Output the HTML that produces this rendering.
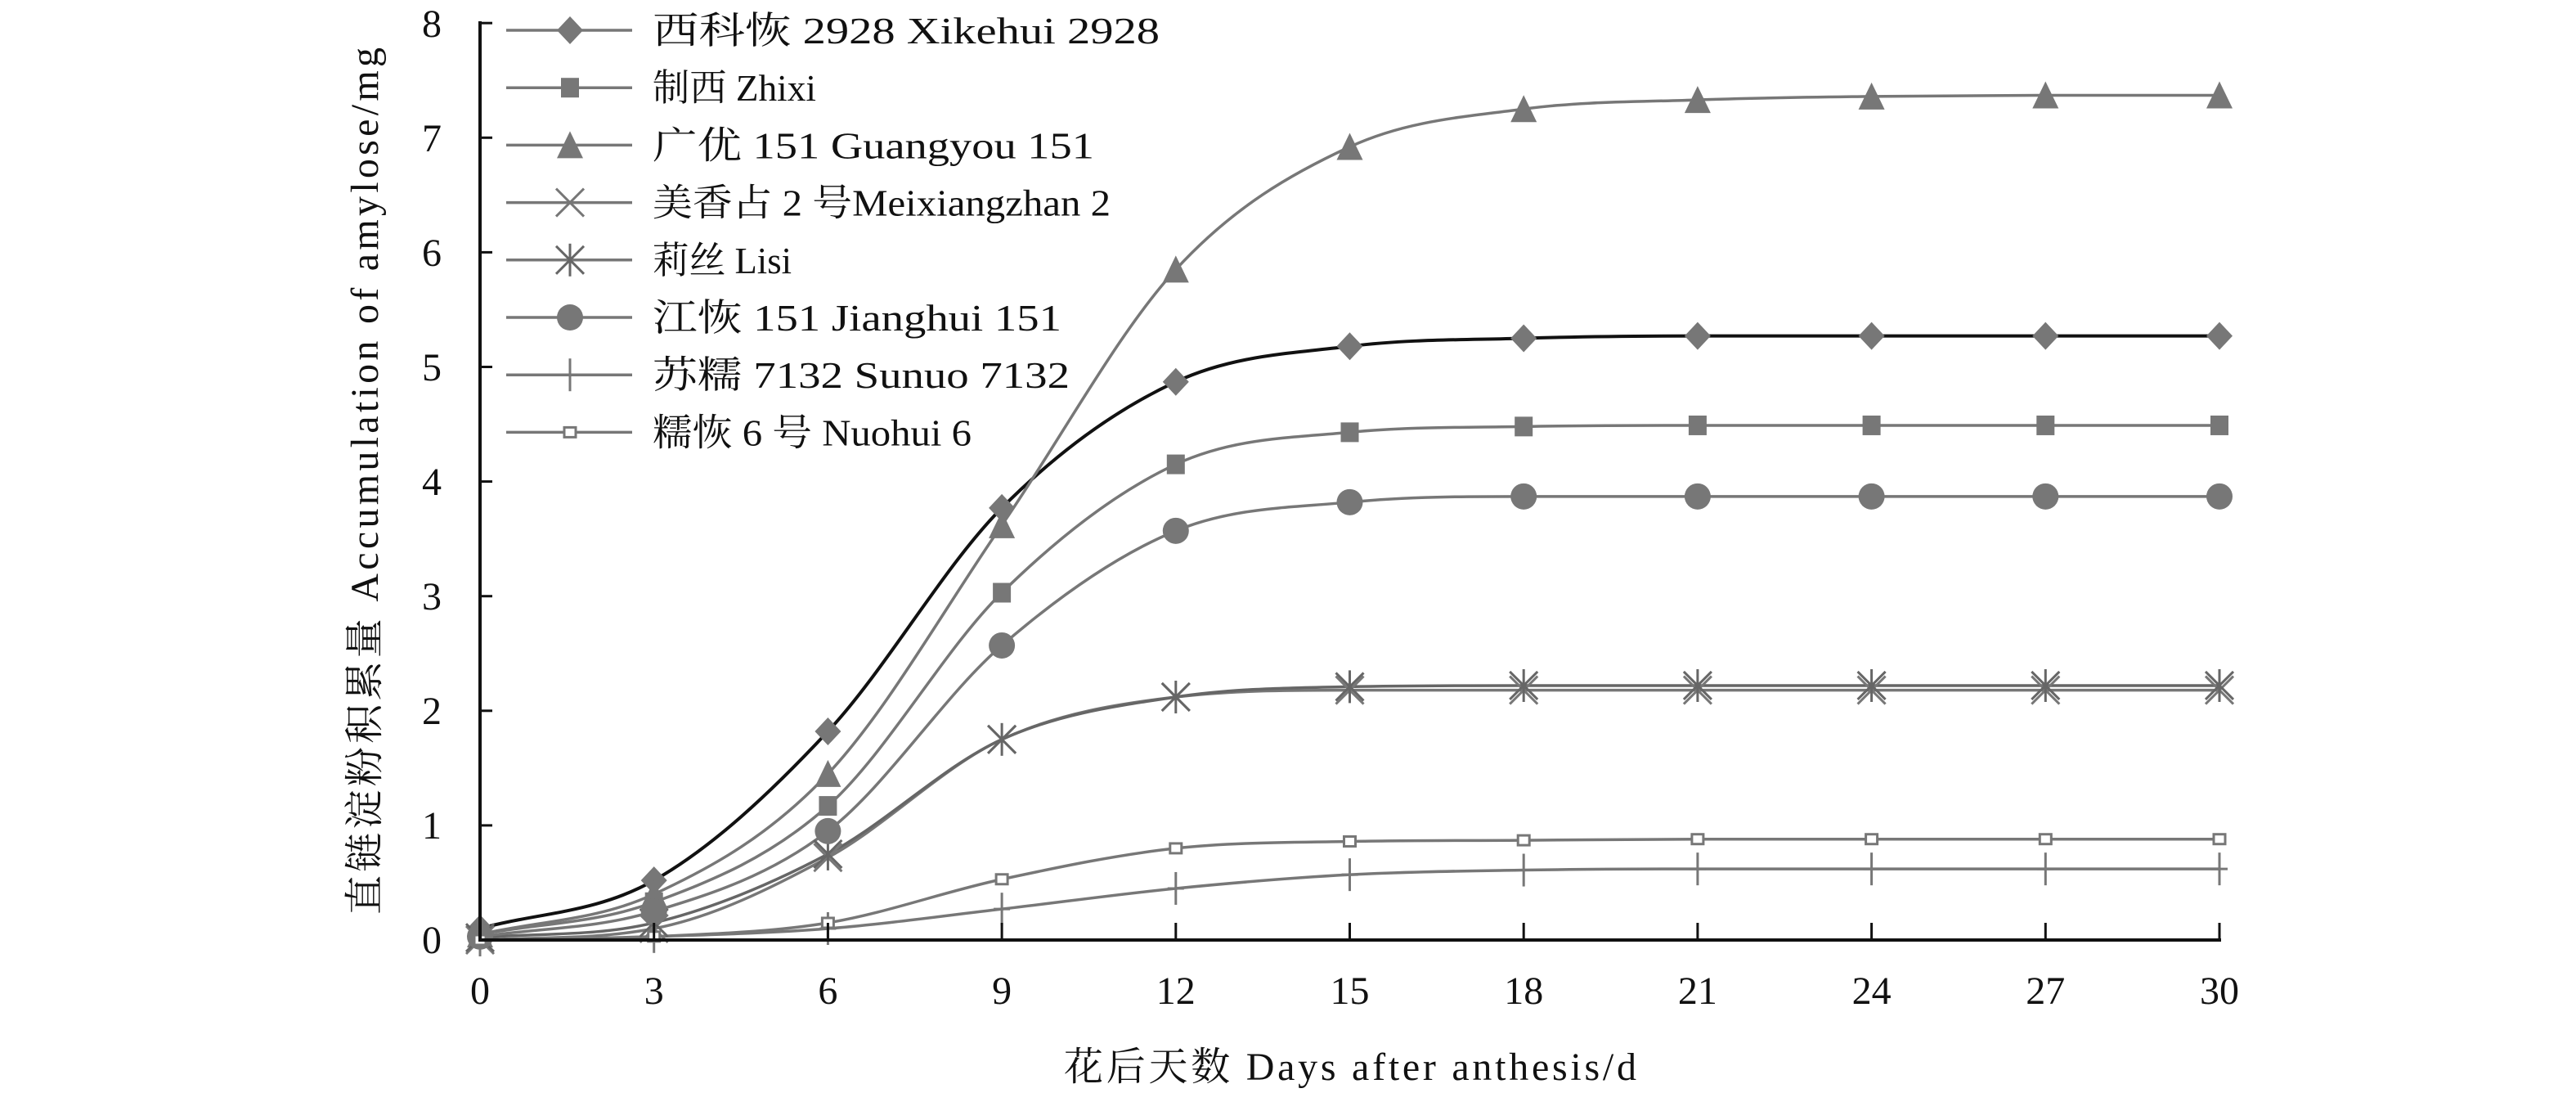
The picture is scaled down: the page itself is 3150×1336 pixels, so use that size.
<!DOCTYPE html>
<html><head><meta charset="utf-8"><style>
html,body{margin:0;padding:0;background:#fff}
svg{display:block}
text{font-family:"Liberation Serif","Noto Serif CJK SC","Noto Sans CJK SC",serif;fill:#111}
</style></head><body>
<svg id="s" width="3150" height="1336" viewBox="0 0 3150 1336" xmlns="http://www.w3.org/2000/svg">
<g id="plot"></g>
<g stroke="#111" stroke-width="4" fill="none">
<line x1="587" y1="26" x2="587" y2="1150"/>
<line x1="585" y1="1149" x2="2716" y2="1149"/>
</g>
<g id="ticks" stroke="#111" stroke-width="3"></g>
<g font-size="48" text-anchor="end">
<text x="540" y="1165">0</text><text x="540" y="1025">1</text><text x="540" y="885">2</text>
<text x="540" y="745">3</text><text x="540" y="605">4</text><text x="540" y="465">5</text>
<text x="540" y="325">6</text><text x="540" y="185">7</text><text x="540" y="45">8</text>
</g>
<g font-size="48" text-anchor="middle" id="xl"></g>
<text x="1651" y="1320" font-size="48" text-anchor="middle" textLength="700">花后天数 Days after anthesis/d</text>
<text transform="translate(462,588) rotate(-90)" font-size="48" text-anchor="middle" textLength="1060">直链淀粉积累量 Accumulation of amylose/mg</text>
<g id="legend"></g>
</svg>
<script>
const NS="http://www.w3.org/2000/svg";
const X=d=>587+d*70.9, Y=v=>1149-v*140.1;
const days=[0,3,6,9,12,15,18,21,24,27,30];
const S=[
 {n:"西科恢 2928 Xikehui 2928",m:"diamond",c:"#111",v:[0.1,0.52,1.82,3.77,4.87,5.18,5.25,5.27,5.27,5.27,5.27],w:620},
 {n:"制西 Zhixi",m:"square",c:"#777",v:[0.05,0.33,1.17,3.03,4.15,4.43,4.48,4.49,4.49,4.49,4.49],w:200},
 {n:"广优 151 Guangyou 151",m:"tri",c:"#777",v:[0.05,0.4,1.45,3.62,5.85,6.92,7.25,7.33,7.36,7.37,7.37],w:540},
 {n:"美香占 2 号Meixiangzhan 2",m:"x",c:"#777",v:[0,0.1,0.72,1.75,2.12,2.18,2.18,2.18,2.18,2.18,2.18],w:560},
 {n:"莉丝 Lisi",m:"ast",c:"#666",v:[0.02,0.15,0.75,1.75,2.12,2.21,2.22,2.22,2.22,2.22,2.22],w:170},
 {n:"江恢 151 Jianghui 151",m:"circle",c:"#777",v:[0.03,0.25,0.95,2.57,3.57,3.82,3.87,3.87,3.87,3.87,3.87],w:500},
 {n:"苏糯 7132 Sunuo 7132",m:"plus",c:"#777",v:[0,0.03,0.1,0.27,0.45,0.57,0.61,0.62,0.62,0.62,0.62],w:510},
 {n:"糯恢 6 号 Nuohui 6",m:"small",c:"#777",v:[0,0.03,0.15,0.53,0.8,0.86,0.87,0.88,0.88,0.88,0.88],w:390}
];
function el(t,a,p){const e=document.createElementNS(NS,t);for(const k in a)e.setAttribute(k,a[k]);p.appendChild(e);return e;}
function mono(xs,ys){const n=xs.length,d=[],m=[];for(let i=0;i<n-1;i++)d.push((ys[i+1]-ys[i])/(xs[i+1]-xs[i]));
 m[0]=d[0];m[n-1]=d[n-2];for(let i=1;i<n-1;i++){m[i]=d[i-1]*d[i]<=0?0:(d[i-1]+d[i])/2;}
 for(let i=0;i<n-1;i++){if(d[i]==0){m[i]=m[i+1]=0;continue;}const a=m[i]/d[i],b=m[i+1]/d[i],s=a*a+b*b;if(s>9){const t=3/Math.sqrt(s);m[i]=t*a*d[i];m[i+1]=t*b*d[i];}}
 let p="M"+X(xs[0])+","+Y(ys[0]);
 for(let i=0;i<n-1;i++){const h=xs[i+1]-xs[i];p+=" C"+X(xs[i]+h/3)+","+Y(ys[i]+m[i]*h/3)+" "+X(xs[i+1]-h/3)+","+Y(ys[i+1]-m[i+1]*h/3)+" "+X(xs[i+1])+","+Y(ys[i+1]);}
 return p;}
function marker(g,m,x,y,c){const f=c=="#111"?"#777":c;
 if(m=="diamond")el("polygon",{points:`${x},${y-17} ${x+16},${y} ${x},${y+17} ${x-16},${y}`,fill:"#777"},g);
 else if(m=="square")el("rect",{x:x-11,y:y-12,width:22,height:24,fill:f},g);
 else if(m=="tri")el("polygon",{points:`${x},${y-17} ${x+16},${y+16} ${x-16},${y+16}`,fill:f},g);
 else if(m=="circle")el("ellipse",{cx:x,cy:y,rx:16,ry:16,fill:f},g);
 else if(m=="small")el("rect",{x:x-7,y:y-6,width:14,height:12,fill:"#fff",stroke:f,"stroke-width":3},g);
 else {const gg=el("g",{stroke:f,"stroke-width":3},g);
  if(m=="x"||m=="ast"){el("line",{x1:x-17,y1:y-17,x2:x+17,y2:y+17},gg);el("line",{x1:x-17,y1:y+17,x2:x+17,y2:y-17},gg);}
  if(m=="ast"||m=="plus"){el("line",{x1:x,y1:y-20,x2:x,y2:y+20},gg);}
  if(m=="plus"){el("line",{x1:x-10,y1:y,x2:x+10,y2:y},gg);}
 }}
const P=document.getElementById("plot");
S.forEach(s=>{el("path",{d:mono(days,s.v),fill:"none",stroke:s.c,"stroke-width":s.c=="#111"?4:3.5},P);});
S.forEach(s=>{days.forEach((d,i)=>marker(P,s.m,X(d),Y(s.v[i]),s.c));});
const T=document.getElementById("ticks"),XL=document.getElementById("xl");
for(let v=1;v<=8;v++)el("line",{x1:587,y1:Y(v),x2:602,y2:Y(v)},T);
days.forEach(d=>{el("line",{x1:X(d),y1:1149,x2:X(d),y2:1128},T);const t=el("text",{x:X(d),y:1227},XL);t.textContent=d;});
const L=document.getElementById("legend");
S.forEach((s,i)=>{const y=37+i*70.2;el("line",{x1:619,y1:y,x2:773,y2:y,stroke:"#777","stroke-width":3.5},L);
 marker(L,s.m,697,y,s.c=="#111"?"#777":s.c);
 const t=el("text",{x:798,y:y+16,"font-size":46,textLength:s.w,lengthAdjust:"spacingAndGlyphs"},L);t.textContent=s.n;});
</script>
</body></html>
